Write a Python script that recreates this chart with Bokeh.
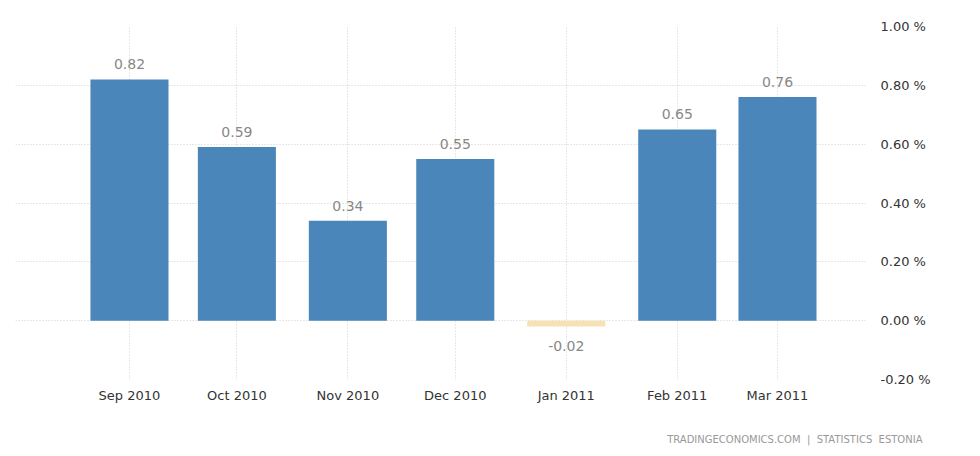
from datetime import datetime
from bokeh.plotting import figure
from bokeh.models import FixedTicker, DatetimeAxis, LinearAxis, Range1d, Grid, Title
from bokeh.core.properties import value
from bokeh.embed import file_html
from bokeh.resources import INLINE

# ---- data ----
months = ["Sep 2010", "Oct 2010", "Nov 2010", "Dec 2010", "Jan 2011", "Feb 2011", "Mar 2011"]
dates = [datetime(2010, 9, 1), datetime(2010, 10, 1), datetime(2010, 11, 1), datetime(2010, 12, 1),
         datetime(2011, 1, 1), datetime(2011, 2, 1), datetime(2011, 3, 1)]
values = [0.82, 0.59, 0.34, 0.55, -0.02, 0.65, 0.76]
y_ticks = [-0.2, 0.0, 0.2, 0.4, 0.6, 0.8, 1.0]
y_tick_labels = ["-0.20 %", "0.00 %", "0.20 %", "0.40 %", "0.60 %", "0.80 %", "1.00 %"]
source_text = "TRADINGECONOMICS.COM\u00a0\u00a0|\u00a0\u00a0STATISTICS\u00a0\u00a0ESTONIA"

POS = "#4a86b9"
NEG = "#f7e2b3"
DAY = 86400000.0

def ms(d):
    return (d - datetime(1970, 1, 1)).total_seconds() * 1000.0

xs = [ms(d) for d in dates]
pos_x = [x for x, v in zip(xs, values) if v >= 0]
pos_v = [v for v in values if v >= 0]
neg_x = [x for x, v in zip(xs, values) if v < 0]
neg_v = [v for v in values if v < 0]

p = figure(width=960, height=449, output_backend="svg", toolbar_location=None,
           x_axis_type=None, y_axis_location=None,
           x_range=Range1d(ms(datetime(2010, 7, 31, 4)), ms(datetime(2011, 3, 25, 14))),
           y_range=Range1d(-0.2, 1.0),
           min_border_left=15, min_border_right=95, min_border_top=26, min_border_bottom=67)
p.outline_line_color = None
p.background_fill_color = "white"
p.border_fill_color = "white"

# grids
xgrid = Grid(dimension=0, ticker=FixedTicker(ticks=xs), grid_line_color="#d0d0d0", grid_line_dash="1 2")
p.add_layout(xgrid)
p.ygrid.ticker = FixedTicker(ticks=y_ticks)
p.ygrid.grid_line_color = "#d0d0d0"
p.ygrid.grid_line_dash = "1 2"

bw = 21.8 * DAY
p.vbar(x=pos_x, top=pos_v, bottom=0, width=bw, fill_color=POS, line_color=None)
p.vbar(x=neg_x, top=0, bottom=neg_v, width=bw, fill_color=NEG, line_color=None)

# value labels
p.text(x=pos_x, y=pos_v, text=[f"{v:.2f}" for v in pos_v], text_align="center",
       text_baseline="bottom", y_offset=-10, text_color="#888888",
       text_font=value("DejaVu Sans"), text_font_size="14px")
p.text(x=neg_x, y=neg_v, text=[f"{v:.2f}" for v in neg_v], text_align="center",
       text_baseline="top", y_offset=14, text_color="#888888",
       text_font=value("DejaVu Sans"), text_font_size="14px")

# x axis
xax = DatetimeAxis(ticker=FixedTicker(ticks=xs))
xax.major_label_overrides = {x: m for x, m in zip(xs, months)}
xax.axis_line_color = None
xax.major_tick_line_color = None
xax.minor_tick_line_color = None
xax.major_label_standoff = 2
xax.major_label_text_font = "DejaVu Sans"
xax.major_label_text_font_size = "13px"
xax.major_label_text_color = "#333333"
p.add_layout(xax, "below")

# y axis on right
yax = LinearAxis(ticker=FixedTicker(ticks=y_ticks))
yax.major_label_overrides = {t: l for t, l in zip(y_ticks, y_tick_labels)}
yax.axis_line_color = None
yax.major_tick_line_color = None
yax.minor_tick_line_color = None
yax.major_label_standoff = 9
yax.major_label_text_font = "DejaVu Sans"
yax.major_label_text_font_size = "13px"
yax.major_label_text_color = "#333333"
p.add_layout(yax, "right")

spacer = Title(text="\u00a0", text_font_size="8px")
p.add_layout(spacer, "below")

footer = Title(text=source_text, align="right", offset=-57,
               text_font="DejaVu Sans", text_font_size="10px", text_font_style="normal",
               text_color="#999999")
p.add_layout(footer, "below")

open("out.html", "w").write(file_html(p, INLINE))
